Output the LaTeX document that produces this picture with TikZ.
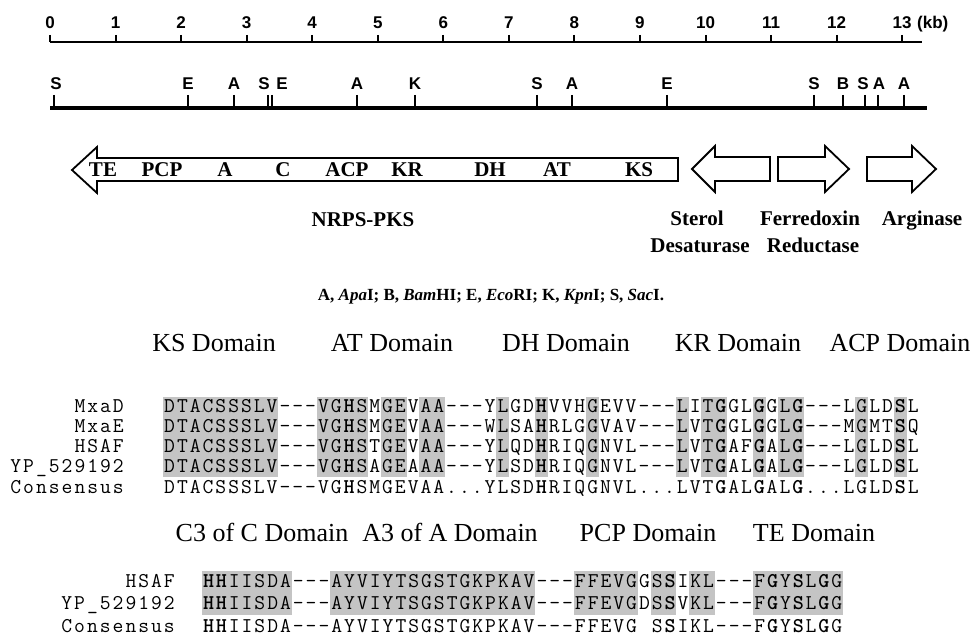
\documentclass[tikz,border=0pt]{standalone}
\usepackage{fontspec}
\setmainfont{Liberation Serif}
\newfontfamily\helv{Liberation Sans}
\definecolor{shadegray}{RGB}{196,196,196}
\ExplSyntaxOn
\cs_new:Npn \myal_onechar:n #1
  {
    \makebox[12.82pt][c]
      {
        \str_case:nnF {#1}
          {
            {+} {}
            {=} {\_}
            {h} {\bfseries H}
            {g} {\bfseries G}
            {s} {\bfseries S}
          }
          {#1}
      }
  }
\cs_new:Npn \myal_lblchar:n #1
  {
    \makebox[12.82pt][c]
      {
        \str_case:nnF {#1}
          {
            {=} {\_}
          }
          {#1}
      }
  }
\NewDocumentCommand \seqrow { m }
  { \tl_map_function:nN {#1} \myal_onechar:n }
\NewDocumentCommand \seqlbl { m }
  { \tl_map_function:nN {#1} \myal_lblchar:n }
\ExplSyntaxOff
\begin{document}
\begin{tikzpicture}[x=1pt,y=-1pt,
  scaleline/.style={line width=2pt},
  mapline/.style={line width=3.5pt},
  sitetick/.style={line width=2pt},
  scalelbl/.style={font=\helv\bfseries\fontsize{17}{20}\selectfont, anchor=base, inner sep=0pt},
  genelbl/.style={font=\bfseries\fontsize{21}{24}\selectfont, anchor=base, inner sep=0pt},
  capt/.style={font=\bfseries\fontsize{17}{20}\selectfont, anchor=base, inner sep=0pt},
  genearrow/.style={draw=black, line width=1.8pt, fill=white, line join=miter},
  domhead/.style={font=\fontsize{26}{29}\selectfont, anchor=base, inner sep=0pt},
  seq/.style={font=\ttfamily\fontsize{21}{24}\selectfont, anchor=base west, inner sep=0pt},
  rowlbl/.style={font=\ttfamily\fontsize{21}{24}\selectfont, anchor=base east, inner sep=0pt},
  shadebox/.style={fill=shadegray, draw=none}
]
\useasboundingbox (0,0) rectangle (971,644);
% ---------- scale bar ----------
\draw[scaleline] (50,42) coordinate (s0) -- (922,42) coordinate (s1);
\foreach \k in {0,...,13} {
  \draw[scaleline] ({50+65.55*\k},35) -- ({50+65.55*\k},42);
  \node[scalelbl] (num\k) at ({50+65.55*\k},28.5) {\k};
}
\node[scalelbl, anchor=base west] (kb) at (917,28.5) {(kb)};
% ---------- restriction map ----------
\draw[mapline] (50,108) coordinate (m0) -- (927,108) coordinate (m1);
\foreach \x/\lx/\t [count=\i] in {54/56/S, 188/188/E, 234/234/A, 268/264/S, 272/282/E, 357/357/A, 415/415/K, 537/537/S, 572/572/A, 667/667/E, 814/814/S, 843/843/B, 865/863/S, 878/879/A, 904/904/A} {
  \draw[sitetick] (\x,95) -- (\x,107);
  \node[scalelbl] (site\i) at (\lx,90) {\t};
}
% ---------- gene arrows ----------
\draw[genearrow] (72,170) -- (97,147) -- (97,158) -- (678,158) -- (678,181) -- (97,181) -- (97,193) -- cycle;
\draw[genearrow] (692,169) -- (715,146) -- (715,157) -- (770,157) -- (770,181) -- (715,181) -- (715,192) -- cycle;
\draw[genearrow] (778,157) -- (825,157) -- (825,146) -- (849,169) -- (825,192) -- (825,181) -- (778,181) -- cycle;
\draw[genearrow] (867,157) -- (912,157) -- (912,146) -- (936,169) -- (912,192) -- (912,181) -- (867,181) -- cycle;
\foreach \x/\t [count=\i] in {103/TE, 162/PCP, 225/A, 283/C, 347/ACP, 407/KR, 490/DH, 557/AT, 639/KS} {
  \node[genelbl] (dom\i) at (\x,177) {\t};
}
\node[genelbl] (nrps) at (363,227) {NRPS-PKS};
\node[genelbl] (sterol) at (697,226) {Sterol};
\node[genelbl] (desat) at (700,252) {Desaturase};
\node[genelbl] (ferre) at (810,226) {Ferredoxin};
\node[genelbl] (reduc) at (813,252) {Reductase};
\node[genelbl] (argin) at (922,226) {Arginase};
\node[capt] (caption) at (491,300) {A, \textit{Apa}I; B, \textit{Bam}HI; E, \textit{Eco}RI; K, \textit{Kpn}I; S, \textit{Sac}I.};
% ---------- alignment 1 ----------
\def\cw{12.82}
\foreach \a/\b in {0/8, 12/15, 17/18, 20/21, 26/26, 29/29, 33/33, 40/40, 42/43, 46/46, 48/49, 54/54, 57/57} {
  \fill[shadebox] ({163+\a*\cw},397) rectangle ({163+(\b+1)*\cw},477);
}
\node[domhead] (hKS) at (214,351) {KS Domain};
\node[domhead] (hAT) at (392,351) {AT Domain};
\node[domhead] (hDH) at (566,351) {DH Domain};
\node[domhead] (hKR) at (738,351) {KR Domain};
\node[domhead] (hACP) at (900,351) {ACP Domain};
\node[rowlbl] (l1) at (125,412) {\seqlbl{MxaD}};
\node[rowlbl] (l2) at (125,432) {\seqlbl{MxaE}};
\node[rowlbl] (l3) at (125,452) {\seqlbl{HSAF}};
\node[rowlbl] (l4) at (125,472) {\seqlbl{YP=529192}};
\node[rowlbl] (l5) at (125,493) {\seqlbl{Consensus}};
\node[seq] (r1) at (163,412) {\seqrow{DTACSSSLV---VGhSMGEVAA---YLGDhVVHGEVV---LITgGLgGLg---LGLDsL}};
\node[seq] (r2) at (163,432) {\seqrow{DTACSSSLV---VGhSMGEVAA---WLSAhRLGGVAV---LVTgGLgGLg---MGMTsQ}};
\node[seq] (r3) at (163,452) {\seqrow{DTACSSSLV---VGhSTGEVAA---YLQDhRIQGNVL---LVTgAFgALg---LGLDsL}};
\node[seq] (r4) at (163,472) {\seqrow{DTACSSSLV---VGhSAGEAAA---YLSDhRIQGNVL---LVTgALgALg---LGLDsL}};
\node[seq] (r5) at (163,493) {\seqrow{DTACSSSLV---VGhSMGEVAA...YLSDhRIQGNVL...LVTgALgALg...LGLDsL}};
% ---------- alignment 2 ----------
\foreach \a/\b in {0/6, 10/25, 29/33, 35/36, 38/39, 43/49} {
  \fill[shadebox] ({202+\a*\cw},571) rectangle ({202+(\b+1)*\cw},615);
}
\node[domhead] (hC3) at (262,541) {C3 of C Domain};
\node[domhead] (hA3) at (450,541) {A3 of A Domain};
\node[domhead] (hPCP) at (648,541) {PCP Domain};
\node[domhead] (hTE) at (814,541) {TE Domain};
\node[rowlbl] (k1) at (176,587) {\seqlbl{HSAF}};
\node[rowlbl] (k2) at (176,609) {\seqlbl{YP=529192}};
\node[rowlbl] (k3) at (176,632) {\seqlbl{Consensus}};
\node[seq] (q1) at (202,587) {\seqrow{hhIISDA---AYVIYTSGSTGKPKAV---FFEVGGSsIKL---FgYsLgG}};
\node[seq] (q2) at (202,609) {\seqrow{hhIISDA---AYVIYTSGSTGKPKAV---FFEVGDSsVKL---FgYsLgG}};
\node[seq] (q3) at (202,632) {\seqrow{hhIISDA---AYVIYTSGSTGKPKAV---FFEVG+SsIKL---FgYsLgG}};
\end{tikzpicture}
\end{document}
